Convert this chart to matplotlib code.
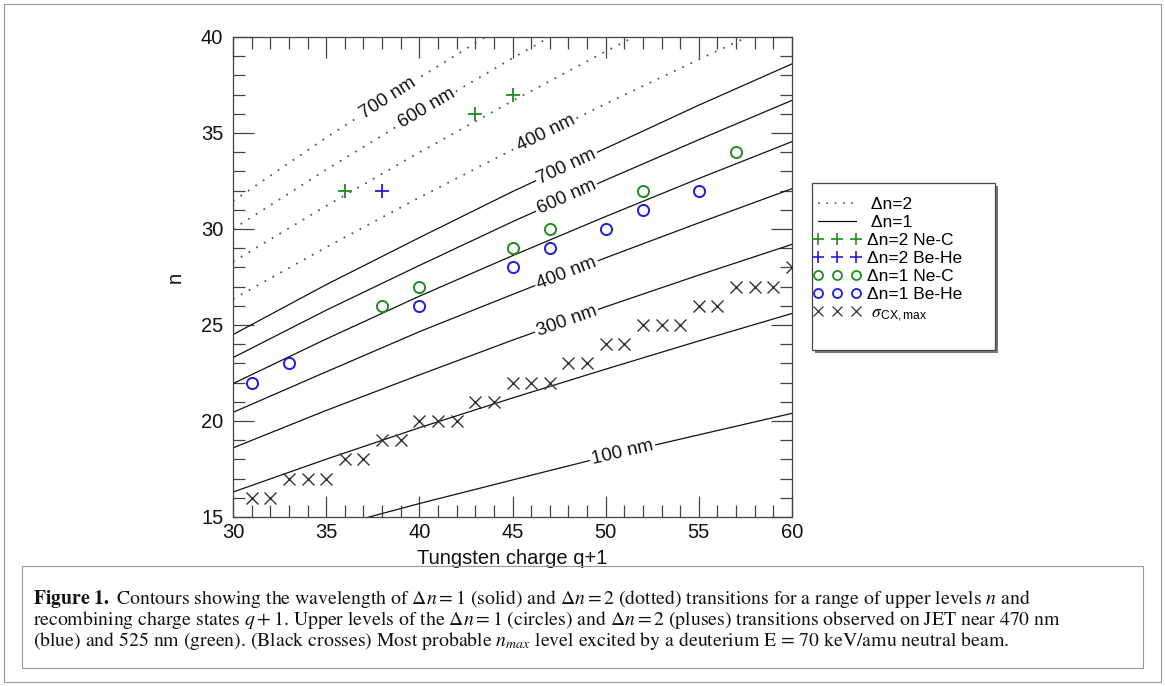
import numpy as np
import matplotlib
matplotlib.use("Agg")
import matplotlib.pyplot as plt
from matplotlib.lines import Line2D
from matplotlib.patches import Rectangle
from matplotlib.ticker import MultipleLocator

plt.rcParams['font.family'] = ['Liberation Sans', 'DejaVu Sans']
plt.rcParams['mathtext.fontset'] = 'custom'
plt.rcParams['mathtext.rm'] = 'STIXGeneral'
plt.rcParams['mathtext.it'] = 'STIXGeneral:italic'
plt.rcParams['mathtext.bf'] = 'STIXGeneral:bold'
plt.rcParams['mathtext.sf'] = 'Liberation Sans'

# ---------------- data ----------------
q_grid = [30, 35, 40, 45, 50, 55, 60]

# Delta n = 1 contours (solid): n at each q of q_grid
dn1_700 = [24.5, 27.1, 29.55, 31.95, 34.2, 36.45, 38.6]
dn1_600 = [23.3, 25.77, 28.1, 30.38, 32.55, 34.65, 36.7]
dn1_500 = [21.95, 24.27, 26.5, 28.61, 30.65, 32.63, 34.55]
dn1_400 = [20.45, 22.56, 24.65, 26.59, 28.5, 30.32, 32.1]
dn1_300 = [18.6, 20.55, 22.4, 24.21, 25.95, 27.6, 29.2]
dn1_200 = [16.3, 18.01, 19.65, 21.2, 22.7, 24.17, 25.6]
dn1_100 = [13.05, 14.4, 15.7, 16.93, 18.15, 19.28, 20.4]
dn1_names = ["700 nm", "600 nm", "500 nm", "400 nm", "300 nm", "200 nm", "100 nm"]
dn1_labelled = [True, True, False, True, True, False, True]

# Delta n = 2 contours (dotted)
dn2_700 = [31.45, 34.76, 37.88, 40.88, 43.76, 46.5, 49.25]
dn2_600 = [30.0, 33.09, 36.05, 38.9, 41.64, 44.28, 46.86]
dn2_500 = [28.3, 31.2, 33.99, 36.67, 39.25, 41.74, 44.16]
dn2_400 = [26.35, 29.05, 31.64, 34.13, 36.52, 38.83, 41.08]
dn2_names = ["700 nm", "600 nm", "500 nm", "400 nm"]
dn2_labelled = [True, True, False, True]

# observed levels
nec_dn2_q = [36, 43, 45]
nec_dn2_n = [32, 36, 37]
behe_dn2_q = [38]
behe_dn2_n = [32]
nec_dn1_q = [38, 40, 45, 47, 52, 57]
nec_dn1_n = [26, 27, 29, 30, 32, 34]
behe_dn1_q = [31, 33, 40, 45, 47, 50, 52, 55]
behe_dn1_n = [22, 23, 26, 28, 29, 30, 31, 32]
cx_q = [31, 32, 33, 34, 35, 36, 37, 38, 39, 40, 41, 42, 43, 44, 45,
        46, 47, 48, 49, 50, 51, 52, 53, 54, 55, 56, 57, 58, 59, 60]
cx_n = [16, 16, 17, 17, 17, 18, 18, 19, 19, 20, 20, 20, 21, 21, 22,
        22, 22, 23, 23, 24, 24, 25, 25, 25, 26, 26, 27, 27, 27, 28]

legend_labels = [" Δn=2", " Δn=1", "Δn=2 Ne-C", "Δn=2 Be-He",
                 "Δn=1 Ne-C", "Δn=1 Be-He", r" $\sigma_{\mathsf{CX,max}}$"]

# ---------------- styles ----------------
GREEN = '#1f8c1f'
BLUE = '#1c1ce0'
CROSS = '#333333'
DOT_STYLE = (0, (1, 4))

W, H = 1165, 686
fig = plt.figure(figsize=(W / 100, H / 100), dpi=100)
ax = fig.add_axes([233 / W, 1 - 517 / H, (792 - 233) / W, (517 - 37) / H])
ax.set_xlim(30, 60)
ax.set_ylim(15, 40)

dn1_lines = [dn1_700, dn1_600, dn1_500, dn1_400, dn1_300, dn1_200, dn1_100]
dn2_lines = [dn2_700, dn2_600, dn2_500, dn2_400]

for ns in dn1_lines:
    ax.plot(q_grid, ns, color='#111111', lw=0.9, zorder=2)
for ns in dn2_lines:
    ax.plot(q_grid, ns, color='#555555', lw=1.3, ls=DOT_STYLE, zorder=2)


def contour_label(ns, qc, text):
    nc = np.interp(qc, q_grid, ns)
    p1 = ax.transData.transform((qc - 0.5, np.interp(qc - 0.5, q_grid, ns)))
    p2 = ax.transData.transform((qc + 0.5, np.interp(qc + 0.5, q_grid, ns)))
    ang = np.degrees(np.arctan2(p2[1] - p1[1], p2[0] - p1[0]))
    ax.text(qc, nc, text, rotation=ang, rotation_mode='anchor', ha='center',
            va='center', fontsize=13.5, color='#111111', zorder=3,
            bbox=dict(facecolor='white', edgecolor='none', pad=1.5))


dn1_label_q = [47.9, 47.9, None, 47.9, 47.9, None, 50.9]
dn2_label_q = [38.3, 40.4, None, 46.8]
for ns, name, lab, qc in zip(dn1_lines, dn1_names, dn1_labelled, dn1_label_q):
    if lab:
        contour_label(ns, qc, name)
for ns, name, lab, qc in zip(dn2_lines, dn2_names, dn2_labelled, dn2_label_q):
    if lab:
        contour_label(ns, qc, name)

ax.plot(nec_dn2_q, nec_dn2_n, ls='none', marker='+', ms=10, mew=1.3, color=GREEN, zorder=4)
ax.plot(behe_dn2_q, behe_dn2_n, ls='none', marker='+', ms=10, mew=1.3, color=BLUE, zorder=4)
ax.plot(nec_dn1_q, nec_dn1_n, ls='none', marker='o', ms=8, mew=1.4, mfc='none', color=GREEN, zorder=4)
ax.plot(behe_dn1_q, behe_dn1_n, ls='none', marker='o', ms=8, mew=1.4, mfc='none', color=BLUE, zorder=4)
ax.plot(cx_q, cx_n, ls='none', marker='x', ms=9, mew=1.0, color=CROSS, zorder=4)

# axes styling (IDL-like)
ax.xaxis.set_major_locator(MultipleLocator(5))
ax.xaxis.set_minor_locator(MultipleLocator(1))
ax.yaxis.set_major_locator(MultipleLocator(5))
ax.yaxis.set_minor_locator(MultipleLocator(1))
ax.tick_params(which='both', direction='in', top=True, right=True,
               color='#444444', width=0.9, labelcolor='#111111')
ax.tick_params(which='major', length=14.8)
ax.tick_params(which='minor', length=8.3)
ax.tick_params(axis='x', pad=4.5, labelsize=14.5)
ax.tick_params(axis='y', pad=7, labelsize=14.5)
for s in ax.spines.values():
    s.set_color('#444444')
    s.set_linewidth(0.9)
ax.set_xlabel("Tungsten charge q+1", fontsize=14.5, labelpad=5, color='#111111')
ax.set_ylabel("n", fontsize=14.5, labelpad=12, color='#111111')

# legend
handles = [
    Line2D([], [], color='#555555', lw=1.2, ls=DOT_STYLE),
    Line2D([], [], color='#111111', lw=0.9),
    Line2D([], [], ls='none', marker='+', ms=9, mew=1.2, color=GREEN),
    Line2D([], [], ls='none', marker='+', ms=9, mew=1.2, color=BLUE),
    Line2D([], [], ls='none', marker='o', ms=6.5, mew=1.3, mfc='none', color=GREEN),
    Line2D([], [], ls='none', marker='o', ms=6.5, mew=1.3, mfc='none', color=BLUE),
    Line2D([], [], ls='none', marker='x', ms=7.5, mew=0.9, color=CROSS),
]
fig.patches.append(Rectangle(((812 + 3) / W, 1 - (350 + 3) / H), (995 - 812) / W, (350 - 183) / H,
                             transform=fig.transFigure, facecolor='#777777', edgecolor='none', zorder=1))
fig.patches.append(Rectangle((812 / W, 1 - 350 / H), (995 - 812) / W, (350 - 183) / H,
                             transform=fig.transFigure, facecolor='white', edgecolor='#444444',
                             lw=0.9, zorder=2))
fig.legend(handles, legend_labels, loc='upper left', bbox_to_anchor=(810 / W, 1 - 194 / H),
           bbox_transform=fig.transFigure, frameon=False, fontsize=12.5, numpoints=3,
           handlelength=2.8, handletextpad=0.35, labelspacing=0.17, borderpad=0.15,
           borderaxespad=0)

# outer border and caption box
fig.patches.append(Rectangle((4 / W, 1 - 682 / H), (1161 - 4) / W, (682 - 4) / H,
                             transform=fig.transFigure, fill=False, edgecolor='#999999', lw=0.8, zorder=0))
fig.patches.append(Rectangle((22 / W, 1 - 668 / H), (1143 - 22) / W, (668 - 566) / H,
                             transform=fig.transFigure, fill=False, edgecolor='#999999', lw=0.8, zorder=0))

cap1 = (r"$\mathbf{Figure\ 1.}$ Contours showing the wavelength of $\Delta n = 1$ (solid) and "
        r"$\Delta n = 2$ (dotted) transitions for a range of upper levels $n$ and")
cap2 = (r"recombining charge states $q + 1$. Upper levels of the $\Delta n = 1$ (circles) and "
        r"$\Delta n = 2$ (pluses) transitions observed on JET near 470 nm")
cap3 = (r"(blue) and 525 nm (green). (Black crosses) Most probable $n_{max}$ level excited by a "
        r"deuterium E = 70 keV/amu neutral beam.")

renderer = fig.canvas.get_renderer()
t1 = fig.text(33 / W, 1 - 604 / H, cap1, fontsize=12, family='STIXGeneral', color='#111111')
w1 = t1.get_window_extent(renderer).width
fs = 12 * (1082 - 33) / w1 * 0.95
t1.set_fontsize(fs)
fig.text(33 / W, 1 - 625 / H, cap2, fontsize=fs, family='STIXGeneral', color='#111111')
fig.text(33 / W, 1 - 646 / H, cap3, fontsize=fs, family='STIXGeneral', color='#111111')

fig.savefig("out.png", dpi=100)
